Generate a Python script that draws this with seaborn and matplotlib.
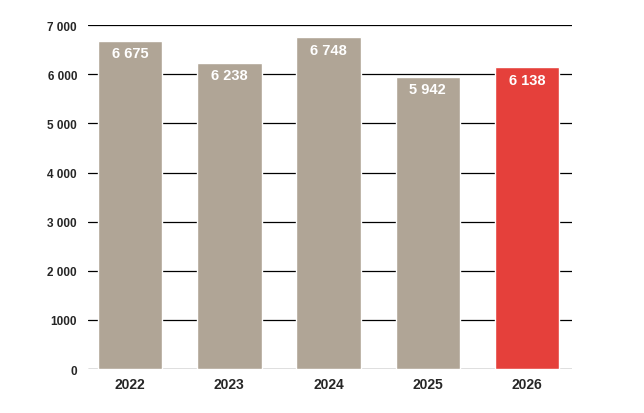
import matplotlib
matplotlib.use("Agg")
import matplotlib.pyplot as plt
import seaborn as sns
import pandas as pd

years = ["2022", "2023", "2024", "2025", "2026"]
values = [6675, 6238, 6748, 5942, 6138]
value_labels = ["6 675", "6 238", "6 748", "5 942", "6 138"]
yticks = [0, 1000, 2000, 3000, 4000, 5000, 6000, 7000]
ytick_labels = ["0", "1000", "2 000", "3 000", "4 000", "5 000", "6 000", "7 000"]

sns.set_style("white")
plt.rcParams['font.family'] = ['Liberation Sans Narrow', 'Liberation Sans', 'DejaVu Sans']

df = pd.DataFrame({"year": years, "value": values})
colors = ["#b0a596"] * 4 + ["#e5403b"]

fig = plt.figure(figsize=(6.44, 4.14), dpi=100)
ax = fig.add_axes([0.137, 0.106, 0.751, 0.831])
for y in yticks:
    ax.axhline(y, color="black", lw=0.9, zorder=0)
sns.barplot(data=df, x="year", y="value", hue="year", palette=colors,
            legend=False, width=0.65, saturation=1, ax=ax, zorder=2)
for i, (v, t) in enumerate(zip(values, value_labels)):
    ax.text(i, v - 250, t, ha="center", va="center", color="white",
            fontsize=10.5, fontweight="bold", zorder=3)

ax.set_xlim(-0.42, 4.45)
ax.set_ylim(0, 7000)
ax.set_yticks(yticks)
ax.set_yticklabels(ytick_labels, fontsize=8.5, fontweight="bold")
ax.tick_params(axis="x", labelsize=10, length=0, pad=6)
for lab in ax.get_xticklabels():
    lab.set_fontweight("bold")
ax.tick_params(axis="y", length=0, pad=8)
ax.set_xlabel("")
ax.set_ylabel("")
sns.despine(ax=ax, left=True, bottom=True)
fig.savefig("out.png", dpi=100)
